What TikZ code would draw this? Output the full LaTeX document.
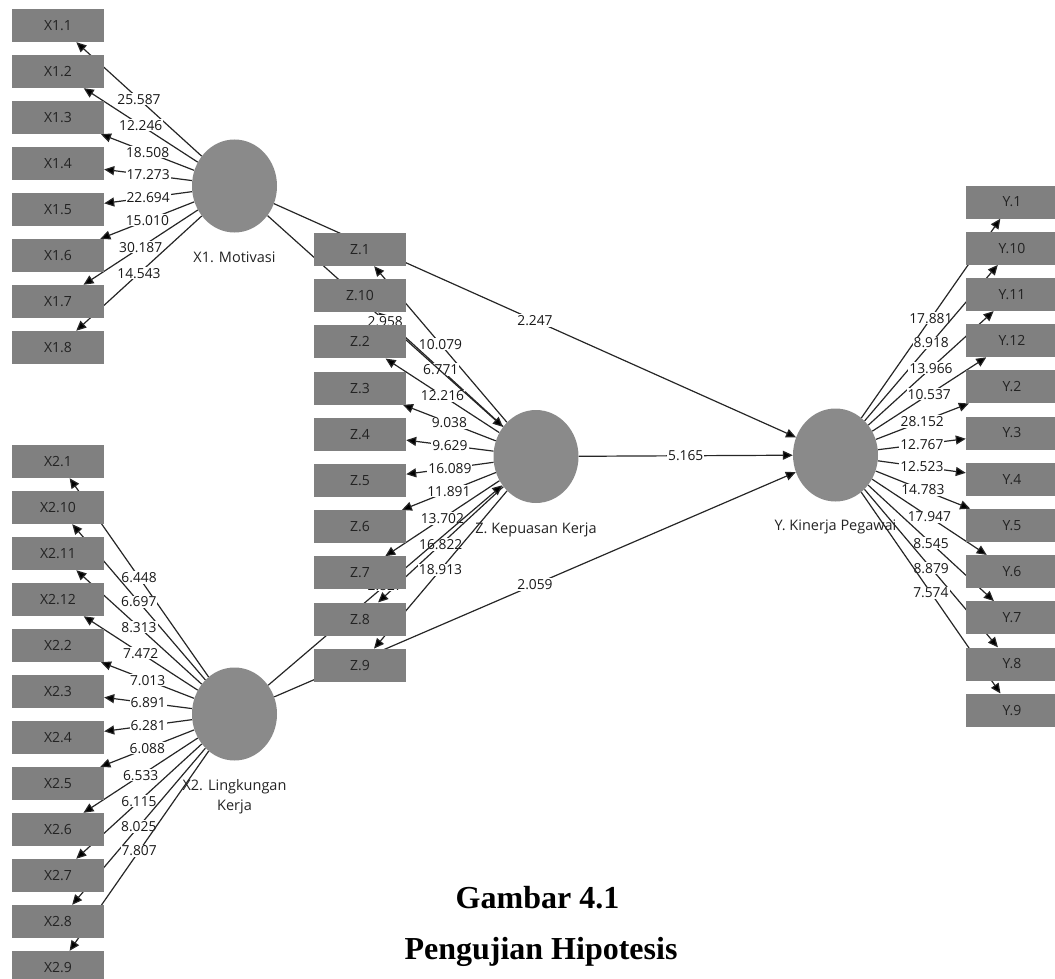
\documentclass[tikz,border=0pt]{standalone}
\usepackage{fontspec}
\setmainfont{Liberation Serif}
\newfontfamily\plsfont{Open Sans}
\usetikzlibrary{shapes.geometric, positioning, arrows.meta}
\definecolor{latgray}{RGB}{138,138,138}
\definecolor{indgray}{RGB}{128,128,128}
\definecolor{txtgray}{RGB}{35,35,35}
\pgfdeclarelayer{background}
\pgfsetlayers{background,main}
\tikzset{
  lat/.style={ellipse, fill=latgray, minimum width=85pt, minimum height=93pt, inner sep=0pt},
  ind/.style={rectangle, fill=indgray, minimum width=92pt, minimum height=33pt, inner sep=0pt,
    text=txtgray, font=\plsfont\fontsize{14}{15}\selectfont},
  latname/.style={text=txtgray, align=center, inner sep=0pt, font=\plsfont\fontsize{14.5}{20}\selectfont},
  val/.style={fill=white, inner sep=1pt, text=black!90, font=\plsfont\fontsize{13.8}{15}\selectfont},
  load/.style={-{Triangle[length=10pt,width=9pt]}, line width=1.2pt, draw=black!85},
  caption/.style={font=\bfseries\fontsize{32}{36}\selectfont}
}

\begin{document}
\begin{tikzpicture}[x=1pt,y=-1pt]
    \useasboundingbox (0,0) rectangle (1055,979);

    % latent variables
    \node[lat] (x1) at (234.5,186) {};
    \node[lat] (x2) at (234.5,714) {};
    \node[lat] (z) at (536,456.5) {};
    \node[lat] (y) at (835.5,455) {};
    \node[latname, below=19pt of x1] (x1name) {X1. Motivasi};
    \node[latname, below=19pt of x2] (x2name) {X2. Lingkungan\\Kerja};
    \node[latname, below=19pt of z] (zname) {Z. Kepuasan Kerja};
    \node[latname, below=18pt of y] (yname) {Y. Kinerja Pegawai};

    % indicators
    \foreach \i [count=\k from 0] in {1,2,3,4,5,6,7,8}
        \node[ind] (x1-\i) at (58,25.5+46*\k) {X1.\i};
    \foreach \i [count=\k from 0] in {1,10,11,12,2,3,4,5,6,7,8,9}
        \node[ind] (x2-\i) at (58,461.5+46*\k) {X2.\i};
    \foreach \i [count=\k from 0] in {1,10,2,3,4,5,6,7,8,9}
        \node[ind] (z-\i) at (360,249.5+46.2*\k) {Z.\i};
    \foreach \i [count=\k from 0] in {1,10,11,12,2,3,4,5,6,7,8,9}
        \node[ind] (y-\i) at (1012,202+46.2*\k) {Y.\i};

    % loadings and paths
    \begin{pgfonlayer}{background}
    \foreach \i/\v in {1/25.587, 2/12.246, 3/18.508, 4/17.273, 5/22.694, 6/15.010, 7/30.187, 8/14.543}
        \path[load] (x1) edge node[val] {\v} (x1-\i);
    \foreach \i/\v in {1/6.448, 10/6.697, 11/8.313, 12/7.472, 2/7.013, 3/6.891,
                       4/6.281, 5/6.088, 6/6.533, 7/6.115, 8/8.025, 9/7.807}
        \path[load] (x2) edge node[val] {\v} (x2-\i);
    \foreach \i/\v in {1/10.079, 10/6.771, 2/12.216, 3/9.038, 4/9.629, 5/16.089,
                       6/11.891, 7/13.702, 8/16.822, 9/18.913}
        \path[load] (z) edge node[val] {\v} (z-\i);
    \foreach \i/\v in {1/17.881, 10/8.918, 11/13.966, 12/10.537, 2/28.152, 3/12.767,
                       4/12.523, 5/14.783, 6/17.947, 7/8.545, 8/8.879, 9/7.574}
        \path[load] (y) edge node[val] {\v} (y-\i);

    \path[load]
    (x1) edge node[val] {2.958} (z)
    (x2) edge node[val] {2.827} (z)
    (x1) edge node[val] {2.247} (y)
    (x2) edge node[val] {2.059} (y)
    (z) edge node[val] {5.165} (y)
    ;
    \end{pgfonlayer}

    % caption
    \node[caption] (cap1) at (537.5,898) {Gambar 4.1};
    \node[caption] (cap2) at (541,952) {Pengujian Hipotesis};
\end{tikzpicture}
\end{document}
